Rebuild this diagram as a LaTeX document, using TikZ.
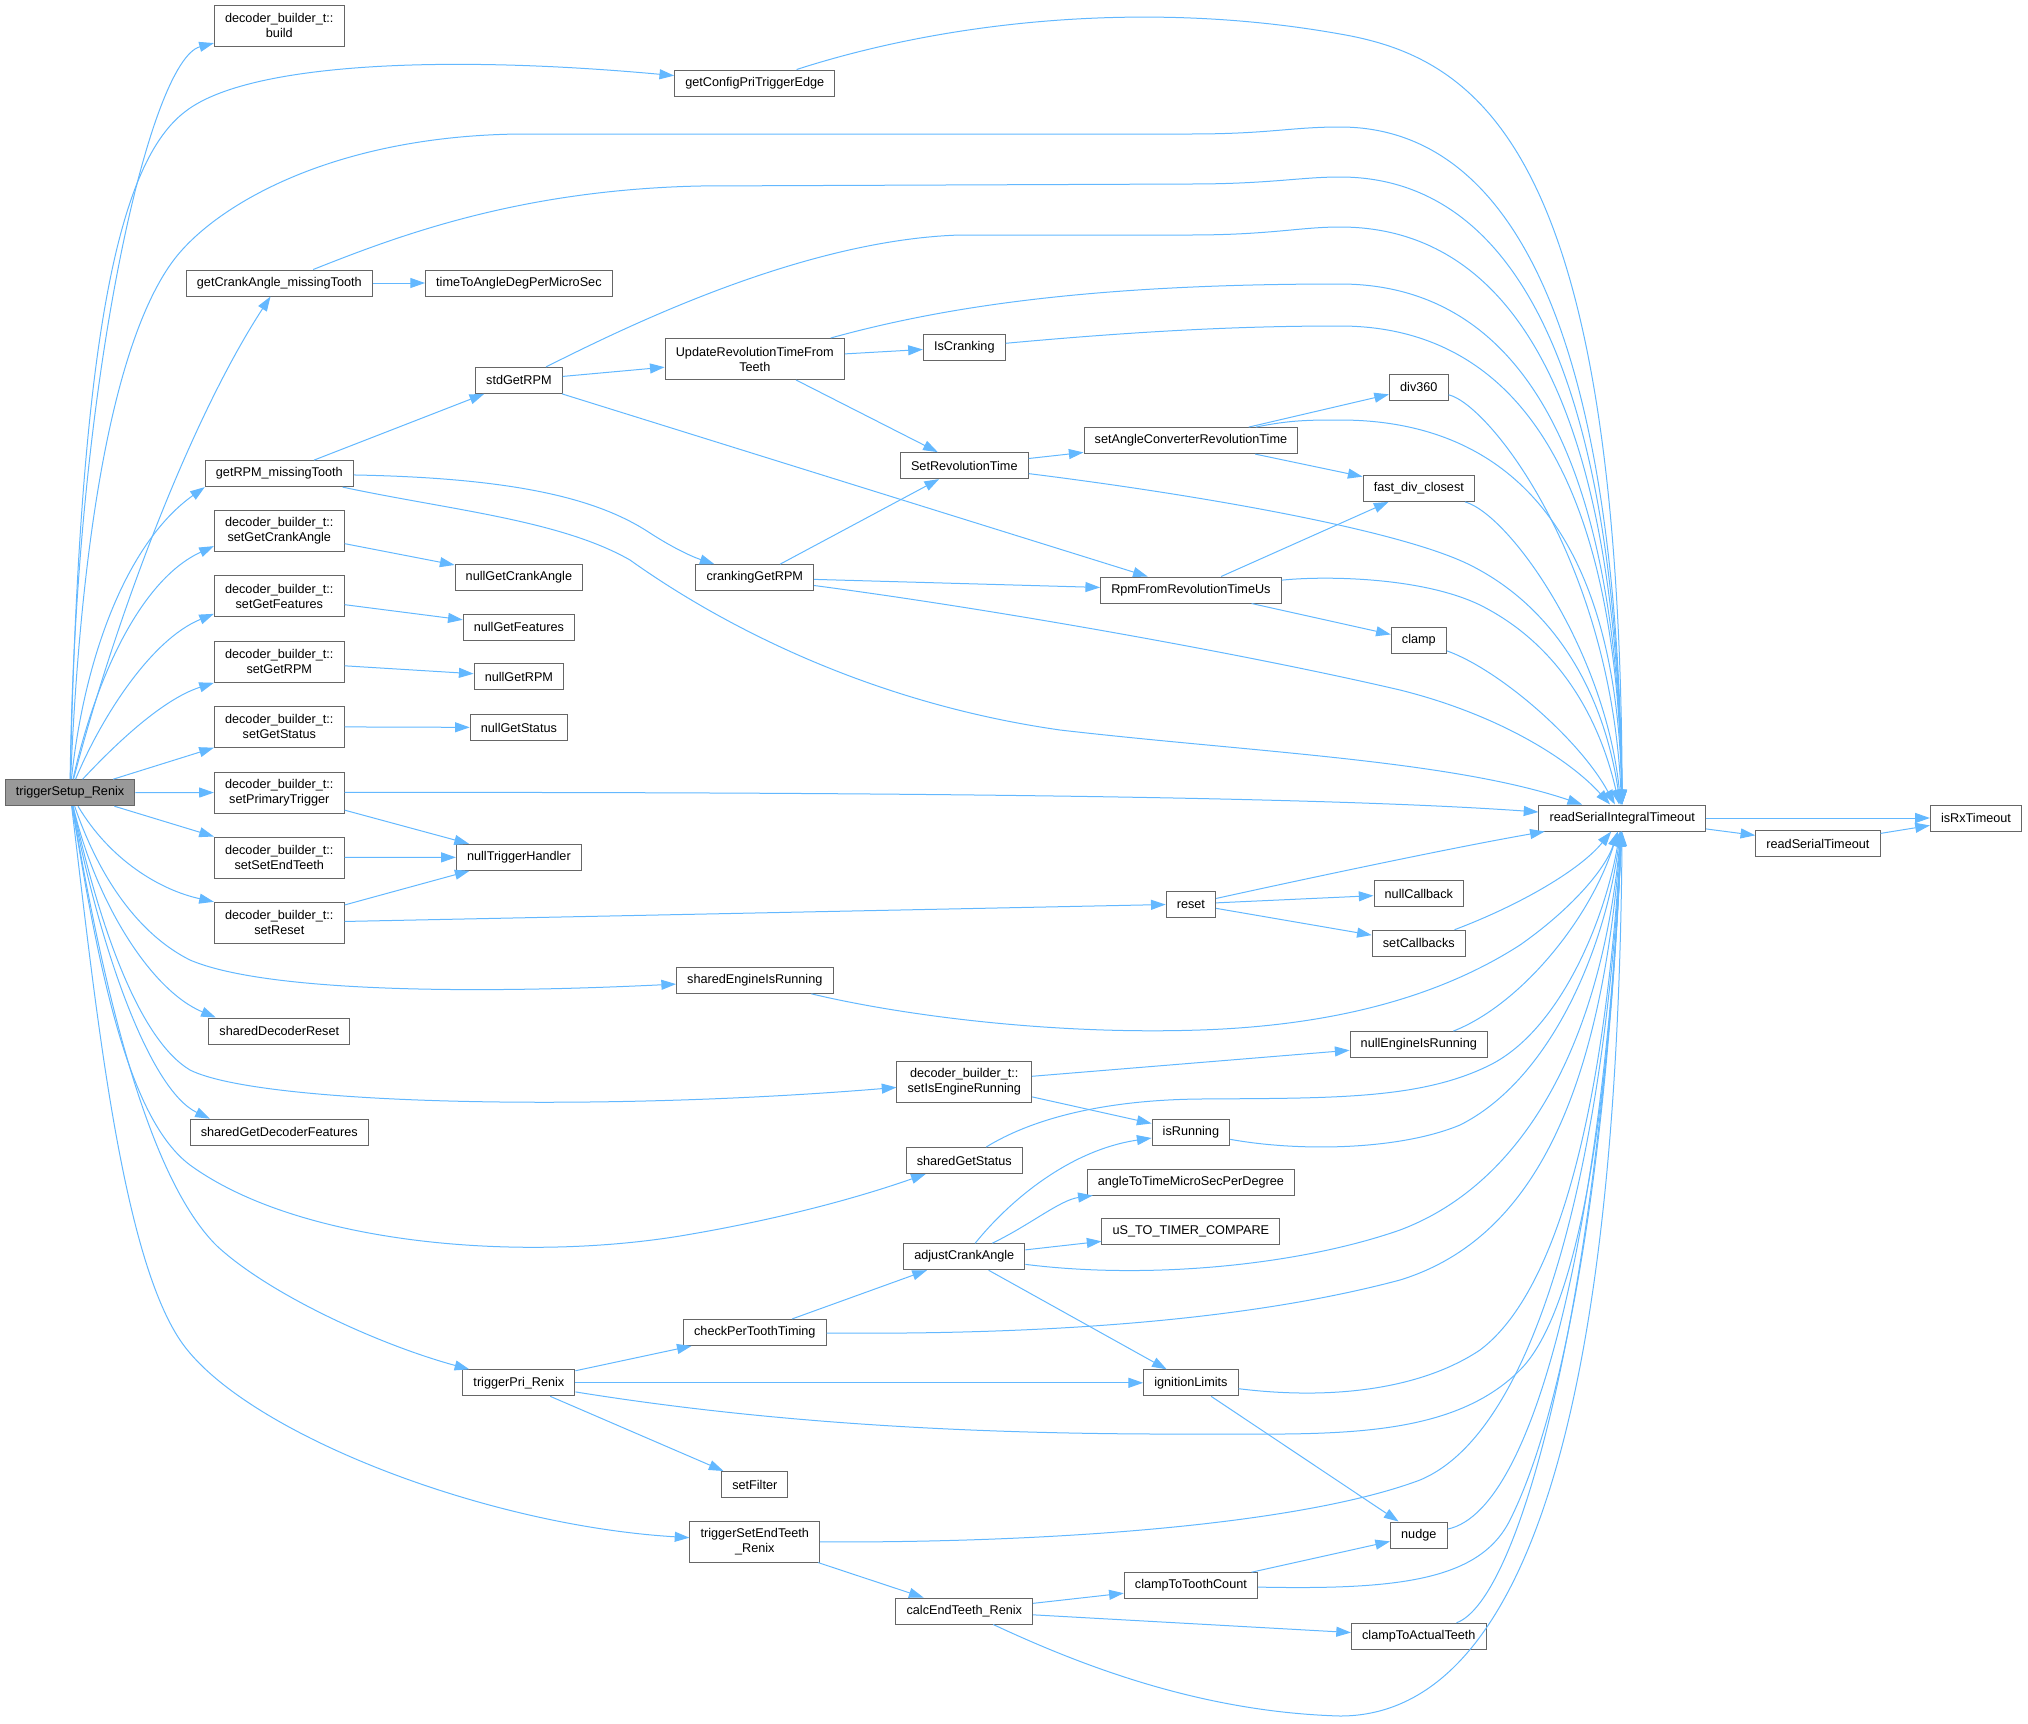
\documentclass[tikz,border=0pt]{standalone}
\usepackage{fontspec}
\setmainfont{Liberation Sans}
\usetikzlibrary{arrows.meta}

\begin{document}
\begin{tikzpicture}[x=0.75pt, y=-0.75pt,
  fn/.style={draw=boxgrey, line width=0.75pt, fill=white, inner xsep=8pt, inner ysep=1pt, minimum height=19.5pt, font=\fontsize{9.5}{11.25}\selectfont},
  fn2/.style={fn, align=center, minimum height=30.75pt},
  root/.style={fn, fill=rootgrey},
  call/.style={draw=edgeblue, line width=0.75pt, -{Triangle[length=11pt, width=7.5pt]}}]
\definecolor{edgeblue}{RGB}{99,184,255}
\definecolor{boxgrey}{RGB}{102,102,102}
\definecolor{rootgrey}{RGB}{153,153,153}
\useasboundingbox (0,0) rectangle (2028,1724);

\node[root] (setup) at (70,792.7) {triggerSetup\_Renix}; % root
\node[fn2] (build) at (279.3,25.8) {decoder\_builder\_t::\\build};
\node[fn] (priEdge) at (754.8,83) {getConfigPriTriggerEdge};
\node[fn] (crankMiss) at (279.3,283) {getCrankAngle\_missingTooth};
\node[fn] (timeToAngle) at (518.9,283) {timeToAngleDegPerMicroSec};
\node[fn] (stdRPM) at (518.9,380.4) {stdGetRPM};
\node[fn] (rpmMiss) at (279.3,473.6) {getRPM\_missingTooth};
\node[fn2] (setCrank) at (279.3,531) {decoder\_builder\_t::\\setGetCrankAngle};
\node[fn] (nullCrank) at (518.9,577.4) {nullGetCrankAngle};
\node[fn2] (setFeat) at (279.3,596.3) {decoder\_builder\_t::\\setGetFeatures};
\node[fn] (nullFeat) at (518.9,627) {nullGetFeatures};
\node[fn2] (setRPM) at (279.3,661.8) {decoder\_builder\_t::\\setGetRPM};
\node[fn] (nullRPM) at (518.9,676.5) {nullGetRPM};
\node[fn2] (setStat) at (279.3,726.7) {decoder\_builder\_t::\\setGetStatus};
\node[fn] (nullStat) at (518.9,727.5) {nullGetStatus};
\node[fn2] (setPri) at (279.3,792.5) {decoder\_builder\_t::\\setPrimaryTrigger};
\node[fn2] (setEnd) at (279.3,857.5) {decoder\_builder\_t::\\setSetEndTeeth};
\node[fn] (nullTrig) at (518.9,857.3) {nullTriggerHandler};
\node[fn2] (setReset) at (279.3,922.8) {decoder\_builder\_t::\\setReset};
\node[fn] (decReset) at (279.3,1031) {sharedDecoderReset};
\node[fn] (decFeat) at (279.3,1132.2) {sharedGetDecoderFeatures};
\node[fn] (priRenix) at (518.9,1382.8) {triggerPri\_Renix};

\node[fn2] (updRev) at (754.8,359) {UpdateRevolutionTimeFrom\\Teeth};
\node[fn] (crankRPM) at (754.8,577.7) {crankingGetRPM};
\node[fn] (sharedEng) at (754.8,980.3) {sharedEngineIsRunning};
\node[fn] (perTooth) at (754.8,1332.4) {checkPerToothTiming};
\node[fn] (setFilter) at (754.8,1484.5) {setFilter};
\node[fn2] (endRenix) at (754.8,1541.6) {triggerSetEndTeeth\\\_Renix};

\node[fn] (isCrank) at (964.3,347.1) {IsCranking};
\node[fn] (setRev) at (964.3,465.6) {SetRevolutionTime};
\node[fn2] (setEng) at (964.3,1081.8) {decoder\_builder\_t::\\setIsEngineRunning};
\node[fn] (sharedStat) at (964.3,1160.5) {sharedGetStatus};
\node[fn] (adjCrank) at (964.3,1256.7) {adjustCrankAngle};
\node[fn] (calcEnd) at (964.3,1611) {calcEndTeeth\_Renix};

\node[fn] (setAngConv) at (1190.9,440.6) {setAngleConverterRevolutionTime};
\node[fn] (rpmFromRev) at (1190.9,590) {RpmFromRevolutionTimeUs};
\node[fn] (reset) at (1190.9,904) {reset};
\node[fn] (isRun) at (1190.9,1132.2) {isRunning};
\node[fn] (angleToTime) at (1190.9,1182) {angleToTimeMicroSecPerDegree};
\node[fn] (usTimer) at (1190.9,1231.3) {uS\_TO\_TIMER\_COMPARE};
\node[fn] (ignLim) at (1190.9,1382.8) {ignitionLimits};
\node[fn] (clampTooth) at (1190.9,1585.7) {clampToToothCount};

\node[fn] (div360) at (1418.8,387.4) {div360};
\node[fn] (fastDiv) at (1418.8,488.4) {fast\_div\_closest};
\node[fn] (clamp) at (1418.8,640.7) {clamp};
\node[fn] (nullCb) at (1418.8,893.6) {nullCallback};
\node[fn] (setCb) at (1418.8,943.2) {setCallbacks};
\node[fn] (nullEng) at (1418.8,1044.6) {nullEngineIsRunning};
\node[fn] (nudge) at (1418.8,1535) {nudge};
\node[fn] (clampActual) at (1418.8,1636.3) {clampToActualTeeth};

\node[fn] (readInt) at (1622.2,818) {readSerialIntegralTimeout};
\node[fn] (readSer) at (1817.9,843.5) {readSerialTimeout};
\node[fn] (rxTimeout) at (1976,818) {isRxTimeout};

% calls out of triggerSetup_Renix
\draw[call] (setup) .. controls (75,380) and (150,60) .. (build);
\draw[call] (setup) .. controls (80,330) and (120,160) .. (186,111) .. controls (250,62) and (450,55) .. (priEdge);
\draw[call] (setup) .. controls (85,450) and (133,315) .. (173,261) .. controls (213,207) and (330,136) .. (520,134) -- (1190,134) .. controls (1270,134) and (1290,127) .. (1340,127) .. controls (1480,127) and (1616,263) .. (readInt);
\draw[call] (setup) .. controls (115,620) and (190,420) .. (crankMiss);
\draw[call] (setup) .. controls (85,650) and (130,540) .. (rpmMiss.south west);
\draw[call] (setup) .. controls (95,680) and (140,580) .. (setCrank.193);
\draw[call] (setup) .. controls (100,720) and (150,640) .. (setFeat.195);
\draw[call] (setup) .. controls (110,750) and (160,700) .. (setRPM.south west);
\draw[call] (setup) -- (setStat.south west);
\draw[call] (setup) -- (setPri);
\draw[call] (setup) -- (setEnd.north west);
\draw[call] (setup) .. controls (110,860) and (160,890) .. (setReset.north west);
\draw[call] (setup) .. controls (95,900) and (150,990) .. (decReset.168);
\draw[call] (setup) .. controls (100,950) and (150,1090) .. (decFeat.169);
\draw[call] (setup) .. controls (100,880) and (140,935) .. (190,960) .. controls (260,990) and (450,995) .. (sharedEng);
\draw[call] (setup) .. controls (100,930) and (140,1040) .. (190,1070) .. controls (260,1105) and (600,1112) .. (setEng);
\draw[call] (setup) .. controls (100,980) and (130,1120) .. (190,1165) .. controls (300,1245) and (520,1262) .. (680,1236) .. controls (800,1216) and (880,1190) .. (sharedStat);
\draw[call] (setup) .. controls (105,1000) and (150,1180) .. (217,1246) .. controls (270,1295) and (380,1345) .. (priRenix);
\draw[call] (setup) .. controls (95,1000) and (120,1250) .. (180,1340) .. controls (240,1430) and (480,1525) .. (endRenix);

% second column
\draw[call] (crankMiss) -- (timeToAngle);
\draw[call] (crankMiss) .. controls (400,235) and (520,190) .. (700,186) -- (1190,184) .. controls (1270,184) and (1300,177) .. (1340,177) .. controls (1480,177) and (1616,303) .. (readInt);
\draw[call] (rpmMiss) -- (stdRPM);
\draw[call] (rpmMiss) .. controls (520,478) and (600,500) .. (650,533) .. controls (670,546) and (690,556) .. (crankRPM);
\draw[call] (rpmMiss) .. controls (450,510) and (560,520) .. (630,560) .. controls (700,610) and (850,700) .. (1060,730) .. controls (1250,752) and (1450,760) .. (readInt);
\draw[call] (setCrank) -- (nullCrank);
\draw[call] (setFeat) -- (nullFeat);
\draw[call] (setRPM) -- (nullRPM);
\draw[call] (setStat) -- (nullStat);
\draw[call] (setPri) -- (nullTrig);
\draw[call] (setPri) .. controls (800,792) and (1300,795) .. (readInt);
\draw[call] (setEnd) -- (nullTrig);
\draw[call] (setReset) -- (nullTrig);
\draw[call] (setReset) -- (reset);
\draw[call] (priEdge) .. controls (950,20) and (1150,0) .. (1340,34) .. controls (1480,58) and (1620,150) .. (readInt);

% rpm chain
\draw[call] (stdRPM) -- (updRev);
\draw[call] (stdRPM) -- (rpmFromRev);
\draw[call] (stdRPM) .. controls (620,330) and (800,240) .. (960,235) -- (1190,235) .. controls (1270,235) and (1300,227) .. (1340,227) .. controls (1480,227) and (1616,343) .. (readInt);
\draw[call] (updRev) -- (isCrank);
\draw[call] (updRev) -- (setRev);
\draw[call] (updRev) .. controls (950,305) and (1100,284) .. (1340,284) .. controls (1480,284) and (1616,388) .. (readInt);
\draw[call] (isCrank) .. controls (1150,330) and (1250,326) .. (1340,326) .. controls (1480,326) and (1616,422) .. (readInt);
\draw[call] (setRev) -- (setAngConv);
\draw[call] (setRev) .. controls (1200,495) and (1400,530) .. (1470,565) .. controls (1560,610) and (1605,700) .. (readInt);
\draw[call] (setAngConv) -- (div360);
\draw[call] (setAngConv) -- (fastDiv);
\draw[call] (setAngConv) .. controls (1290,420) and (1310,420) .. (1340,420) .. controls (1480,420) and (1616,497) .. (readInt);
\draw[call] (crankRPM) -- (setRev);
\draw[call] (crankRPM) -- (rpmFromRev);
\draw[call] (crankRPM) .. controls (1000,610) and (1250,655) .. (1400,690) .. controls (1500,715) and (1570,760) .. (readInt);
\draw[call] (rpmFromRev) -- (fastDiv);
\draw[call] (rpmFromRev) -- (clamp);
\draw[call] (rpmFromRev) .. controls (1320,576) and (1420,576) .. (1480,605) .. controls (1560,645) and (1600,720) .. (readInt);
\draw[call] (div360) .. controls (1490,405) and (1610,560) .. (readInt);
\draw[call] (fastDiv) .. controls (1510,515) and (1605,650) .. (readInt);
\draw[call] (clamp) .. controls (1500,670) and (1580,740) .. (readInt);

% readSerialIntegralTimeout
\draw[call] (readInt) -- (rxTimeout);
\draw[call] (readInt) -- (readSer);
\draw[call] (readSer) -- (rxTimeout);

% lower half
\draw[call] (reset) .. controls (1300,880) and (1450,848) .. (readInt);
\draw[call] (reset) -- (nullCb);
\draw[call] (reset) -- (setCb);
\draw[call] (setCb) .. controls (1520,905) and (1580,870) .. (readInt);
\draw[call] (sharedEng) .. controls (900,1015) and (1050,1035) .. (1200,1030) .. controls (1350,1025) and (1450,990) .. (1520,945) .. controls (1570,910) and (1605,870) .. (readInt);
\draw[call] (setEng) -- (nullEng);
\draw[call] (setEng) -- (isRun);
\draw[call] (nullEng) .. controls (1520,1005) and (1590,920) .. (readInt);
\draw[call] (sharedStat) .. controls (1030,1120) and (1100,1100) .. (1200,1099) .. controls (1330,1098) and (1420,1100) .. (1490,1065) .. controls (1560,1030) and (1605,920) .. (readInt);
\draw[call] (isRun) .. controls (1300,1152) and (1400,1150) .. (1460,1125) .. controls (1550,1080) and (1605,950) .. (readInt);
\draw[call] (adjCrank) .. controls (1010,1200) and (1070,1150) .. (isRun);
\draw[call] (adjCrank) .. controls (1030,1225) and (1060,1200) .. (angleToTime);
\draw[call] (adjCrank) -- (usTimer);
\draw[call] (adjCrank) -- (ignLim);
\draw[call] (adjCrank) .. controls (1150,1280) and (1300,1265) .. (1400,1230) .. controls (1520,1185) and (1600,1050) .. (readInt);
\draw[call] (perTooth) -- (adjCrank);
\draw[call] (perTooth) .. controls (1050,1335) and (1250,1320) .. (1400,1280) .. controls (1530,1240) and (1600,1100) .. (readInt);
\draw[call] (priRenix) -- (perTooth);
\draw[call] (priRenix) -- (ignLim);
\draw[call] (priRenix) -- (setFilter);
\draw[call] (priRenix) .. controls (750,1420) and (950,1435) .. (1200,1434) .. controls (1330,1434) and (1450,1440) .. (1520,1370) .. controls (1580,1310) and (1610,1100) .. (readInt);
\draw[call] (ignLim) -- (nudge);
\draw[call] (ignLim) .. controls (1330,1400) and (1420,1390) .. (1480,1350) .. controls (1560,1290) and (1605,1100) .. (readInt);
\draw[call] (endRenix) -- (calcEnd);
\draw[call] (endRenix) .. controls (1050,1543) and (1300,1525) .. (1420,1480) .. controls (1540,1430) and (1605,1150) .. (readInt);
\draw[call] (calcEnd) -- (clampTooth);
\draw[call] (calcEnd) -- (clampActual);
\draw[call] (calcEnd) .. controls (1080,1665) and (1200,1712) .. (1340,1716) .. controls (1480,1716) and (1616,1540) .. (readInt);
\draw[call] (clampTooth) -- (nudge);
\draw[call] (clampTooth) .. controls (1400,1590) and (1480,1580) .. (1510,1520) .. controls (1560,1420) and (1605,1200) .. (readInt);
\draw[call] (nudge) .. controls (1540,1510) and (1605,1200) .. (readInt);
\draw[call] (clampActual) .. controls (1520,1600) and (1600,1300) .. (readInt);
\end{tikzpicture}
\end{document}
